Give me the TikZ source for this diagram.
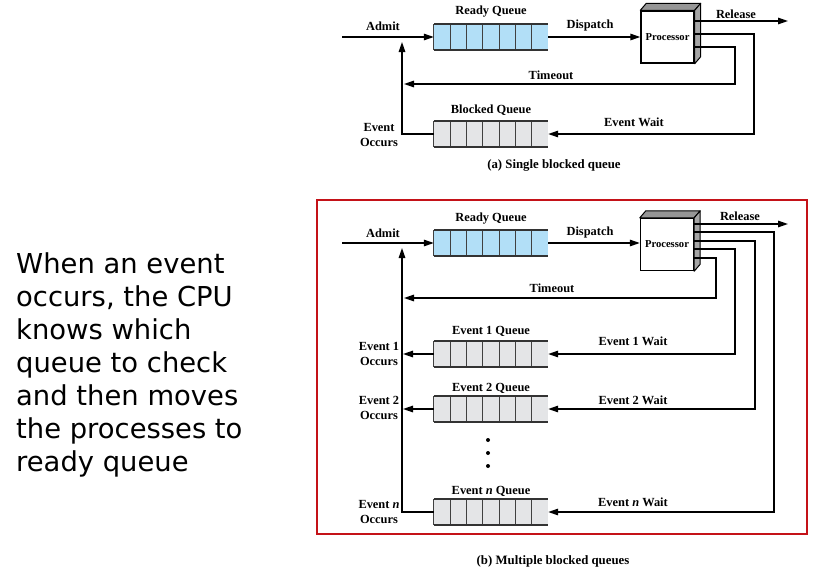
\documentclass[tikz,border=0pt]{standalone}
\usepackage{fontspec}
\setmainfont{Liberation Serif}
\newfontfamily\sidefont{DejaVu Sans}
\usetikzlibrary{arrows.meta}
\definecolor{qblue}{RGB}{178,223,247}
\definecolor{qgray}{RGB}{228,229,231}
\definecolor{redframe}{RGB}{196,18,24}
\definecolor{procside}{RGB}{165,165,165}
\definecolor{proctop}{RGB}{150,150,150}
\tikzset{
  lbl/.style={font=\fontsize{12.4}{14.5}\selectfont\bfseries, inner sep=0pt, align=center},
  caplbl/.style={font=\fontsize{12.8}{15}\selectfont\bfseries, inner sep=0pt},
  conn/.style={line width=1.4pt, -{Triangle[length=10pt,width=6.5pt]}},
  wire/.style={line width=1.4pt},
  queuebox/.style={minimum width=114pt, minimum height=26pt, inner sep=0pt, draw=none},
  procbox/.style={draw, line width=1.4pt, fill=white, minimum width=53pt, minimum height=52pt, inner sep=0pt, font=\fontsize{10.6}{12}\selectfont\bfseries},
  sidetext/.style={font=\sidefont\fontsize{27.4}{33}\selectfont, inner sep=0pt, align=left},
  frame/.style={draw=redframe, line width=2.6pt},
  dotmark/.style={fill=black, circle, inner sep=0pt, minimum size=4pt},
}
\newcommand\drawqueue[4]{%
  \node[queuebox, fill=#4] (#1) at (#2,#3) {};
  \foreach \i in {0,...,6}
    \draw[line width=0.8pt, black!75] ([xshift=\i*114pt/7]#1.south west) -- ([xshift=\i*114pt/7]#1.north west);
  \draw[line width=2pt, black!80] (#1.north west) -- (#1.north east) (#1.south west) -- (#1.south east);
}
\newcommand\drawproc[3]{%
  \node[procbox] (#1) at (#2,#3) {Processor};
  \path[fill=proctop, draw=black, line width=1pt, line join=round] (#1.north west) -- ++(6pt,7pt) -- ([shift={(6pt,7pt)}]#1.north east) -- (#1.north east) -- cycle;
  \path[fill=procside, draw=black, line width=1pt, line join=round] (#1.north east) -- ++(6pt,7pt) -- ([shift={(6pt,7pt)}]#1.south east) -- (#1.south east) -- cycle;
}
\begin{document}
\begin{tikzpicture}[x=1pt, y=-1pt]
\useasboundingbox (0,0) rectangle (817,573);

% ---------- side text ----------
\node[sidetext, anchor=base west] (side) at (16,471) {When an event\\occurs, the CPU\\knows which\\queue to check\\and then moves\\the processes to\\ready queue};

% ================= (a) =================
\drawqueue{aready}{491}{37}{qblue}
\drawqueue{ablk}{491}{134}{qgray}
\drawproc{aproc}{667.5}{37}

\coordinate (a-in) at (342,37);
\coordinate (a-rel) at (694,21);
\coordinate (a-relend) at (788,21);
\coordinate (a-ew) at (694,34);
\coordinate (a-ewc) at (754,134);
\coordinate (a-to) at (694,47);
\coordinate (a-toc) at (735,84);
\coordinate (a-toend) at (404,84);
\coordinate (a-eo) at (402,42);

\draw[conn] (a-in) -- (aready);
\draw[conn] (aready) -- (aproc);
\draw[conn] (a-rel) -- (a-relend);
\draw[conn] (a-ew) -| (a-ewc) -- (ablk.east);
\draw[conn] (a-to) -| (a-toc) -- (a-toend);
\draw[conn] (ablk.west) -| (a-eo);

\node[lbl] (a-admit) at (383,26) {Admit};
\node[lbl] (a-rq) at (491,12) {Ready Queue};
\node[lbl] (a-disp) at (590,26) {Dispatch};
\node[lbl] (a-release) at (736,14) {Release};
\node[lbl] (a-timeout) at (551,75) {Timeout};
\node[lbl] (a-bq) at (491,110) {Blocked Queue};
\node[lbl] (a-evw) at (634,122) {Event Wait};
\node[lbl] (a-evo) at (379,135) {Event\\Occurs};
\node[caplbl] (a-cap) at (554,165) {(a) Single blocked queue};

% ================= (b) =================
\draw[frame] (317,200) rectangle (807,534);

\drawqueue{bready}{491}{243}{qblue}
\drawqueue{bq1}{491}{354}{qgray}
\drawqueue{bq2}{491}{409}{qgray}
\drawqueue{bqn}{491}{512}{qgray}
\drawproc{bproc}{667}{244.5}

\coordinate (b-in) at (342,243);
\coordinate (b-rel) at (693,224);
\coordinate (b-relend) at (788,224);
\coordinate (b-en) at (693,232);
\coordinate (b-enc) at (774,512);
\coordinate (b-e2) at (693,241);
\coordinate (b-e2c) at (755,409);
\coordinate (b-e1) at (693,249);
\coordinate (b-e1c) at (735,354);
\coordinate (b-to) at (693,258);
\coordinate (b-toc) at (716,298);
\coordinate (b-toend) at (404,298);
\coordinate (b-e1o) at (403,354);
\coordinate (b-e2o) at (403,409);
\coordinate (b-up) at (402,248);

\draw[conn] (b-in) -- (bready);
\draw[conn] (bready.east) -- (bready.east -| bproc.west);
\draw[conn] (b-rel) -- (b-relend);
\draw[conn] (b-en) -| (b-enc) -- (bqn.east);
\draw[conn] (b-e2) -| (b-e2c) -- (bq2.east);
\draw[conn] (b-e1) -| (b-e1c) -- (bq1.east);
\draw[conn] (b-to) -| (b-toc) -- (b-toend);
\draw[conn] (bq1.west) -- (b-e1o);
\draw[conn] (bq2.west) -- (b-e2o);
\draw[conn] (bqn.west) -| (b-up);

\node[dotmark] (d1) at (488,440) {};
\node[dotmark] (d2) at (488,453) {};
\node[dotmark] (d3) at (488,466) {};

\node[lbl] (b-admit) at (383,233) {Admit};
\node[lbl] (b-rq) at (491,219) {Ready Queue};
\node[lbl] (b-disp) at (590,233) {Dispatch};
\node[lbl] (b-release) at (740,216) {Release};
\node[lbl] (b-timeout) at (552,288) {Timeout};
\node[lbl] (b-q1l) at (491,331) {Event 1 Queue};
\node[lbl] (b-w1) at (633,341) {Event 1 Wait};
\node[lbl] (b-o1) at (379,354) {Event 1\\Occurs};
\node[lbl] (b-q2l) at (491,388) {Event 2 Queue};
\node[lbl] (b-w2) at (633,400) {Event 2 Wait};
\node[lbl] (b-o2) at (379,408) {Event 2\\Occurs};
\node[lbl] (b-qnl) at (491,491) {Event \textit{n} Queue};
\node[lbl] (b-wn) at (633,502) {Event \textit{n} Wait};
\node[lbl] (b-on) at (379,512) {Event \textit{n}\\Occurs};
\node[caplbl] (b-cap) at (553,561) {(b) Multiple blocked queues};
\end{tikzpicture}
\end{document}
